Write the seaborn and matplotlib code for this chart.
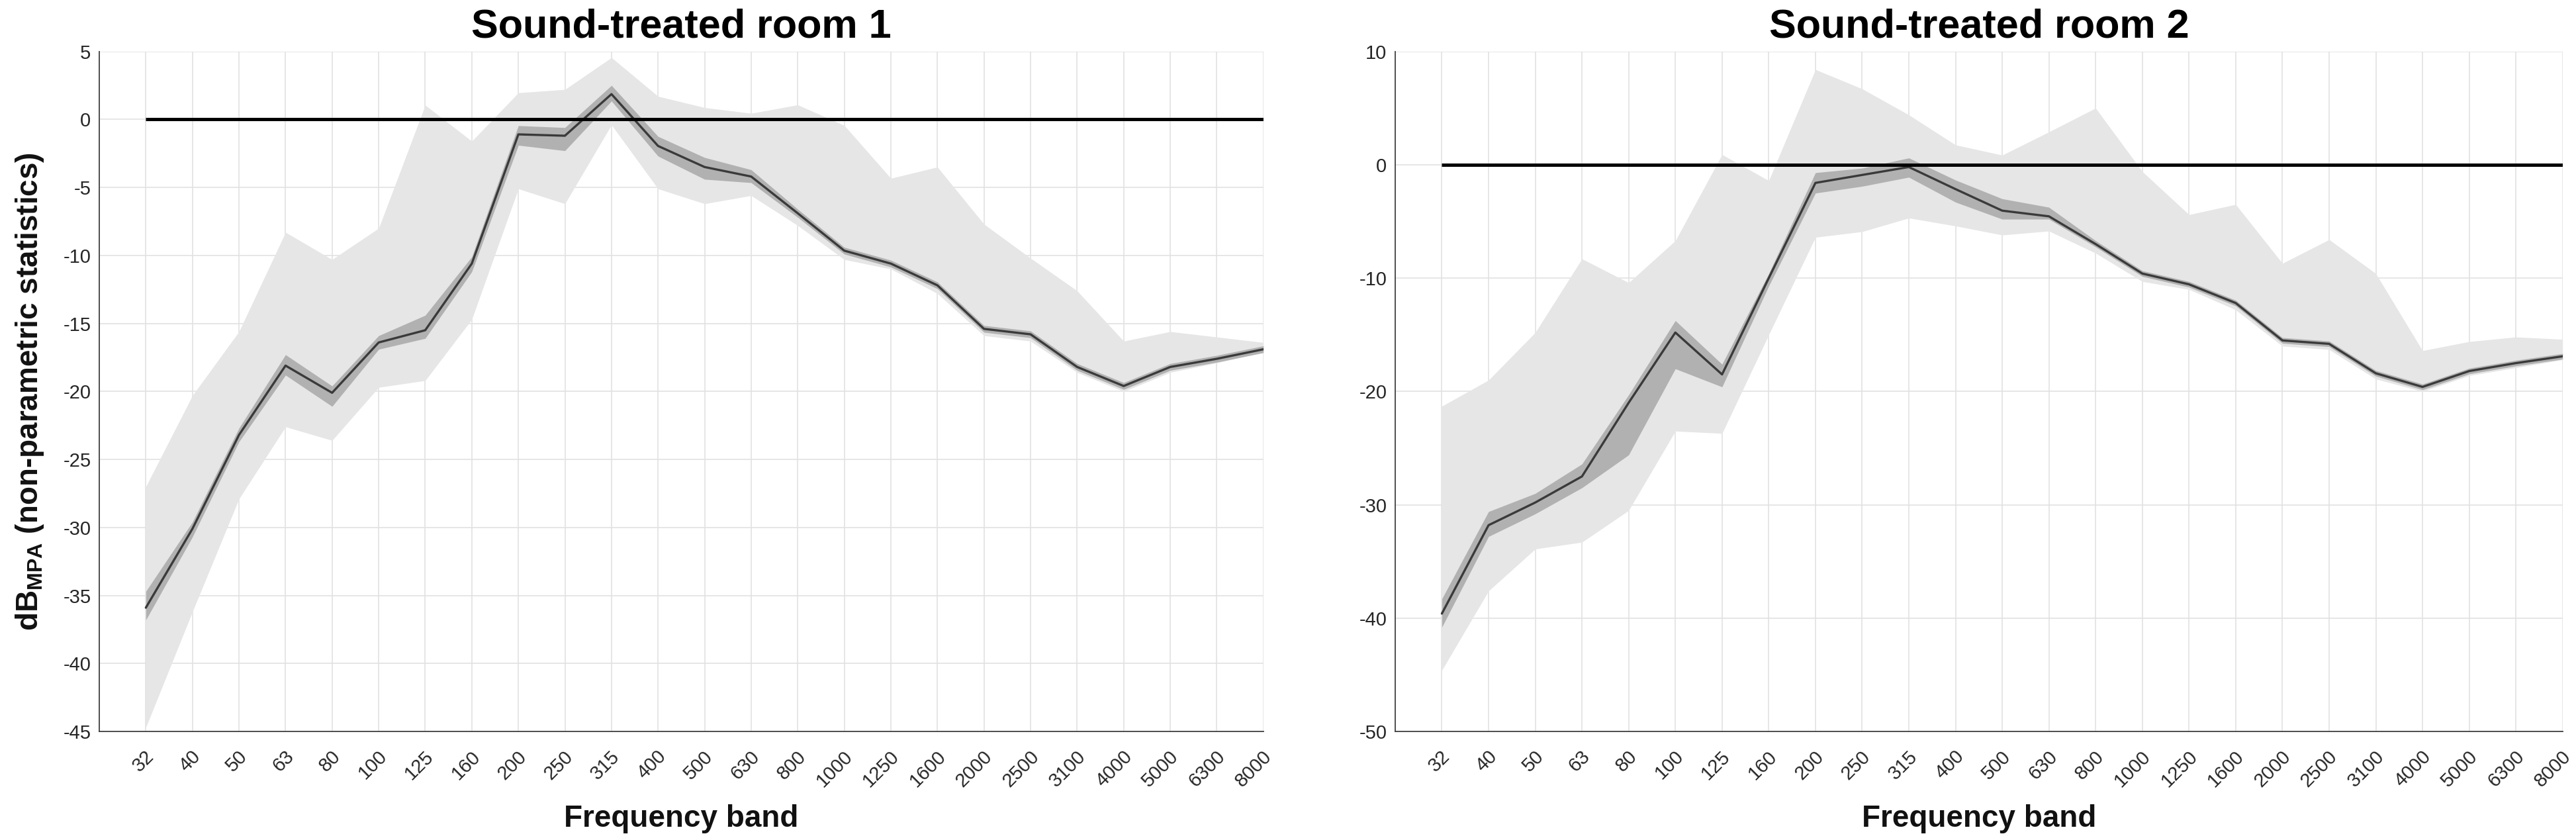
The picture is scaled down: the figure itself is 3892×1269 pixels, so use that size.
"""Median level per frequency band in two sound-treated rooms (non-parametric bands)."""

import matplotlib
matplotlib.use("Agg")
import matplotlib.pyplot as plt
import matplotlib.transforms as mtransforms
import numpy as np
import pandas as pd
import seaborn as sns


BANDS = ["32", "40", "50", "63", "80", "100", "125", "160", "200", "250", "315", "400", "500",
         "630", "800", "1000", "1250", "1600", "2000", "2500", "3100", "4000", "5000", "6300", "8000"]

# room 1
MEDIAN_1 = [-35.9, -30.1, -23.2, -18.1, -20.1, -16.4, -15.5, -10.6, -1.1, -1.2, 1.86, -1.95, -3.5,
            -4.2, -6.9, -9.65, -10.6, -12.2, -15.4, -15.8, -18.2, -19.6, -18.2, -17.6, -16.9]
DARK_HI_1 = [-34.7, -29.6, -22.7, -17.3, -19.6, -15.9, -14.4, -10.1, -0.46, -0.6, 2.5, -1.25, -2.8,
             -3.7, -6.6, -9.4, -10.35, -11.95, -15.15, -15.55, -17.95, -19.35, -17.95, -17.35, -16.65]
DARK_LO_1 = [-36.8, -30.7, -23.7, -18.8, -21.1, -16.9, -16.1, -11.2, -1.9, -2.3, 1.35, -2.7, -4.4,
             -4.65, -7.2, -9.9, -10.85, -12.45, -15.65, -16.05, -18.45, -19.85, -18.45, -17.85, -17.15]
LIGHT_HI_1 = [-27.0, -20.3, -15.6, -8.3, -10.3, -8.0, 1.05, -1.6, 1.96, 2.2, 4.55, 1.7, 0.87,
              0.45, 1.07, -0.44, -4.33, -3.5, -7.7, -10.2, -12.6, -16.3, -15.6, -16.0, -16.4]
LIGHT_LO_1 = [-44.7, -36.2, -27.9, -22.6, -23.6, -19.7, -19.2, -14.7, -5.1, -6.2, -0.4, -5.1, -6.2,
              -5.6, -7.8, -10.3, -11.0, -12.8, -15.9, -16.3, -18.6, -20.0, -18.6, -17.9, -17.1]

# room 2
MEDIAN_2 = [-39.6, -31.8, -29.8, -27.5, -21.0, -14.8, -18.5, -10.0, -1.6, -0.9, -0.2, -2.15, -4.05,
            -4.55, -7.0, -9.6, -10.55, -12.2, -15.5, -15.8, -18.4, -19.6, -18.2, -17.5, -16.9]
DARK_HI_2 = [-38.3, -30.6, -29.0, -26.4, -20.3, -13.75, -17.6, -9.6, -0.7, -0.3, 0.6, -1.35, -3.0,
             -3.75, -6.7, -9.35, -10.3, -11.95, -15.25, -15.55, -18.15, -19.35, -17.95, -17.25, -16.65]
DARK_LO_2 = [-40.8, -32.8, -30.8, -28.5, -25.6, -18.0, -19.6, -10.7, -2.5, -1.9, -1.1, -3.3, -4.8,
             -4.8, -7.25, -9.85, -10.8, -12.45, -15.75, -16.05, -18.65, -19.85, -18.45, -17.75, -17.15]
LIGHT_HI_2 = [-21.3, -19.0, -14.8, -8.3, -10.4, -6.7, 0.9, -1.4, 8.4, 6.7, 4.4, 1.75, 0.85,
              2.9, 5.0, -0.6, -4.4, -3.5, -8.7, -6.6, -9.6, -16.4, -15.6, -15.2, -15.4]
LIGHT_LO_2 = [-44.6, -37.6, -33.9, -33.3, -30.5, -23.5, -23.7, -15.0, -6.4, -5.9, -4.7, -5.4, -6.2,
              -5.85, -7.8, -10.3, -11.0, -12.8, -16.0, -16.3, -18.9, -20.0, -18.6, -17.9, -17.2]

TITLES = ["Sound-treated room 1", "Sound-treated room 2"]
Y_LIMITS = [(-45, 5), (-50, 10)]
Y_STEPS = [5, 10]

LIGHT = "#e6e6e6"
DARK = "#b1b1b1"
LINE = "#3a3a3a"
AXIS = "#404040"


sns.set_theme(style="whitegrid")
plt.rcParams["font.family"] = ["Liberation Sans", "DejaVu Sans"]
plt.rcParams["mathtext.fontset"] = "custom"
plt.rcParams["mathtext.rm"] = "Liberation Sans"
plt.rcParams["mathtext.bf"] = "Liberation Sans:bold"
plt.rcParams["axes.unicode_minus"] = False


def draw_room(ax, median, dark_lo, dark_hi, light_lo, light_hi, ylim, step, title):
    frame = pd.DataFrame({
        "pos": np.arange(len(BANDS)), "median": median,
        "dark_lo": dark_lo, "dark_hi": dark_hi, "light_lo": light_lo, "light_hi": light_hi,
    })
    ax.fill_between(frame["pos"], frame["light_lo"], frame["light_hi"], color=LIGHT, lw=0, zorder=1)
    ax.fill_between(frame["pos"], frame["dark_lo"], frame["dark_hi"], color=DARK, lw=0, zorder=2)
    sns.lineplot(data=frame, x="pos", y="median", color=LINE, lw=2.4, ax=ax, zorder=3)
    ax.hlines(0, frame["pos"].iloc[0], frame["pos"].iloc[-1], color="black", lw=3.6, zorder=4)

    ax.set_facecolor("white")
    ax.set_axisbelow(True)
    ax.grid(True, color="#e2e2e2", lw=1.2)
    ax.set_xlim(-1, len(BANDS) - 1)
    ax.set_ylim(*ylim)
    ax.set_yticks(np.arange(ylim[0], ylim[1] + step, step))
    ax.set_xticks(frame["pos"])
    ax.set_xticklabels(BANDS, rotation=45, ha="right", va="top")
    for side in ("top", "right"):
        ax.spines[side].set_visible(False)
    for side in ("left", "bottom"):
        ax.spines[side].set_color(AXIS); ax.spines[side].set_linewidth(1.3)
    ax.tick_params(axis="both", direction="in", length=12.5, width=1.3, color=AXIS,
                   labelsize=21, labelcolor="#262626")
    ax.tick_params(axis="x", pad=17)
    ax.tick_params(axis="y", pad=9)
    shift = mtransforms.ScaledTranslation(0.18, 0, ax.figure.dpi_scale_trans)
    for label in ax.get_xticklabels():
        label.set_transform(label.get_transform() + shift)

    ax.set_title(title, fontsize=44, fontweight="bold", pad=15.5, color="black")
    ax.set_xlabel("Frequency band", fontsize=33, fontweight="bold", color="#111111")
    ax.xaxis.set_label_coords(0.5, -0.1285)
    ax.xaxis.label.set_va("center")
    ax.set_ylabel("")


fig = plt.figure(figsize=(38.92, 12.69), dpi=100)
ax1 = fig.add_axes([0.03854, 0.1292, 0.4519, 0.8096])
ax2 = fig.add_axes([0.5416, 0.1292, 0.4532, 0.8096])

draw_room(ax1, MEDIAN_1, DARK_LO_1, DARK_HI_1, LIGHT_LO_1, LIGHT_HI_1, Y_LIMITS[0], Y_STEPS[0], TITLES[0])
draw_room(ax2, MEDIAN_2, DARK_LO_2, DARK_HI_2, LIGHT_LO_2, LIGHT_HI_2, Y_LIMITS[1], Y_STEPS[1], TITLES[1])

ax1.set_ylabel(r"dB$_{\mathbf{MPA}}$ (non-parametric statistics)", fontsize=33, fontweight="bold",
               color="#111111")
ax1.yaxis.set_label_coords(-0.0597, 0.5)
ax1.yaxis.label.set_va("center")

fig.savefig("out.png", dpi=100, facecolor="white")
